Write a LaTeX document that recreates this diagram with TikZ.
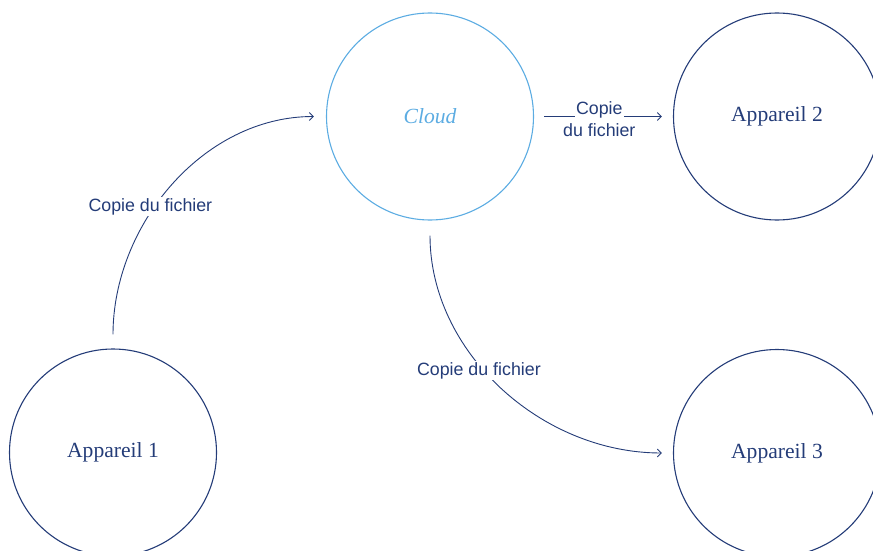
\documentclass[tikz,border=0pt]{standalone}
\usepackage{fontspec}
\setmainfont{Liberation Serif}
\newfontfamily\labelfont{Liberation Sans}
\usetikzlibrary{arrows.meta}
\definecolor{navy}{RGB}{36,60,120}
\definecolor{skyline}{RGB}{92,172,226}
\begin{document}
\begin{tikzpicture}[x=1pt,y=-1pt,
  device/.style={circle,draw=navy,line width=1.1pt,minimum size=207pt,inner sep=0pt,
    text=navy,font=\fontsize{21.6}{26}\selectfont},
  flow/.style={draw=navy,line width=0.9pt,-{Straight Barb[length=4pt,width=8pt]}},
  flowlabel/.style={text=navy,font=\labelfont\fontsize{17.8}{21}\selectfont,inner sep=1.5pt}]
  \useasboundingbox (0,0) rectangle (873,551);
  \clip (0,0) rectangle (873,551);

  % storage and devices
  \node[device,draw=skyline,text=skyline,font=\fontsize{21.6}{26}\selectfont\itshape] (cloud) at (430,116.5) {Cloud};
  \node[device] (a2) at (777,116.5) {Appareil 2};
  \node[device] (a1) at (113,452.5) {Appareil 1};
  \node[device] (a3) at (777,453) {Appareil 3};

  % upload from device 1
  \draw[flow,shorten <=14pt,shorten >=12pt] (a1.north) to[out=90,in=180]
    node[pos=0.425,flowlabel,fill=white,xshift=-7pt] (l1) {Copie du fichier} (cloud.west);

  % download to device 3
  \draw[flow,shorten <=15pt,shorten >=11pt] (cloud.south) to[out=-90,in=180]
    node[pos=0.44,flowlabel,fill=white,xshift=-8pt] (l3) {Copie du fichier} (a3.west);

  % download to device 2
  \draw[flow,shorten <=10pt,shorten >=11pt] (cloud.east) --
    node[pos=0.47,flowlabel,fill=white,anchor=base,yshift=2pt] (l2a) {Copie} (a2.west);
  \node[flowlabel,anchor=base] (l2b) at ([yshift=-22pt]l2a.base) {du fichier};
\end{tikzpicture}
\end{document}
